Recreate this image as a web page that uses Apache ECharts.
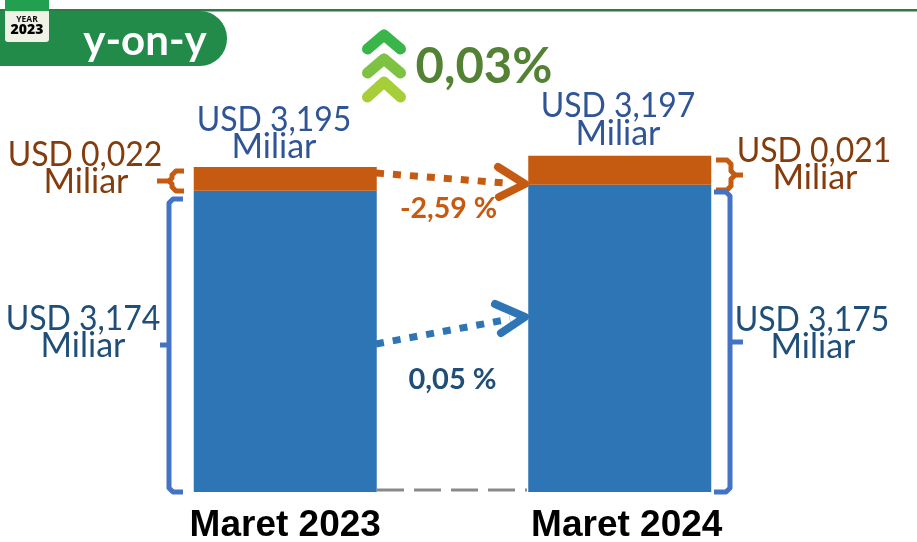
<!DOCTYPE html>
<html><head><meta charset="utf-8">
<style>html,body{margin:0;padding:0;background:#fff}#c{width:917px;height:542px}</style>
<script src="https://cdn.jsdelivr.net/npm/echarts@6/dist/echarts.min.js"></script>
</head><body><div id="c"></div>
<script>
const categories = ['Maret 2023', 'Maret 2024'];
// Drawn heights (the source is not drawn strictly to scale)
const blueValues = [2.96, 3.02];
const orangeValues = [0.235, 0.285];
const totalLabels = ['USD 3,195', 'USD 3,197'];
const orangeLabels = ['USD 0,022', 'USD 0,021'];
const blueLabels = ['USD 3,174', 'USD 3,175'];
const unitLabel = 'Miliar';
const changeOrange = '-2,59 %';
const changeBlue = '0,05 %';
const changeTotal = '0,03%';
const badgeText = 'y-on-y';

const F = 'Lato, "Open Sans", sans-serif';
const txt = (x, y, text, fill, size, weight, family, scaleX) => ({
  type: 'text', z: 20, x, y, scaleX: scaleX || 1,
  style: { text, fill, font: (weight||'normal') + ' ' + size + 'px ' + (family||F), align: 'center', verticalAlign: 'middle' }
});
const usd = (x, y, text, fill) => txt(x, y, text, fill, 34, 'normal', F, 0.94);
const mil = (x, y, fill) => txt(x, y, unitLabel, fill, 34);
const line = (points, stroke, lineWidth, extra) => ({
  type: 'polyline', z: 15, shape: { points },
  style: Object.assign({ stroke, lineWidth, fill: null, lineJoin: 'round', lineCap: 'round' }, extra || {})
});
const butt = { lineCap: 'butt' };
const C = { orange: '#C55A11', brown: '#843C0C', title: '#2F5597', dark: '#1F4E79', bar: '#2E75B6', br: '#4472C4' };
const axisFont = { color: '#000', fontFamily: '"Liberation Sans", Arial, sans-serif', fontWeight: 'bold', fontSize: 37 };

const chart = echarts.init(document.getElementById('c'), null, { renderer: 'canvas' });
chart.setOption({
  animation: false,
  backgroundColor: '#fff',
  grid: { left: 118, width: 669, top: 85, height: 407, outerBoundsMode: 'none' },
  xAxis: {
    type: 'category', data: categories,
    axisLine: { show: false }, axisTick: { show: false },
    axisLabel: Object.assign({}, axisFont, {
      margin: 15,
      formatter: (v, i) => i === 1 ? '{s|' + v + '}' : '{n|' + v + '}',
      rich: { n: axisFont, s: Object.assign({}, axisFont, { padding: [0, 0, 0, 14] }) }
    })
  },
  yAxis: { type: 'value', min: 0, max: 4, show: false, splitLine: { show: false } },
  series: [
    { type: 'bar', stack: 't', barWidth: 183, data: blueValues, itemStyle: { color: C.bar } },
    { type: 'bar', stack: 't', barWidth: 183, data: orangeValues, itemStyle: { color: C.orange } }
  ],
  graphic: { elements: [
    // header
    { type: 'rect', z: 5, shape: { x: 0, y: 9, width: 917, height: 2.5 }, style: { fill: '#2D7A45' } },
    { type: 'rect', z: 6, shape: { x: -30, y: 11, width: 257, height: 55, r: 27 }, style: { fill: '#238B49' } },
    { type: 'rect', z: 7, shape: { x: 5, y: 0, width: 44, height: 42, r: 3 }, style: { fill: '#F0F2E6' } },
    { type: 'rect', z: 8, shape: { x: 5, y: 0, width: 44, height: 11 }, style: { fill: '#22A04F' } },
    txt(27, 19.5, 'YEAR', '#111', 8.5, 'bold', '"Open Sans", sans-serif'),
    txt(27, 30, '2023', '#000', 14, '900', '"Open Sans", sans-serif'),
    txt(145, 41, badgeText, '#fff', 42, 'bold'),
    // chevrons + headline
    line([[367.5,49],[384,35],[400.5,49]], '#3AB54A', 11),
    line([[367.5,73],[384,59],[400.5,73]], '#7DC242', 11),
    line([[367.5,97],[384,82],[400.5,97]], '#A6CE39', 11),
    txt(484, 67, changeTotal, '#548235', 49, 'bold'),
    // labels over bars
    usd(274, 120, totalLabels[0], C.title), mil(274, 147, C.title),
    usd(618, 106, totalLabels[1], C.title), mil(618, 134, C.title),
    usd(85, 155, orangeLabels[0], C.brown), mil(86, 182, C.brown),
    usd(814, 151, orangeLabels[1], C.brown), mil(815, 178, C.brown),
    usd(83, 319, blueLabels[0], C.dark), mil(83, 346, C.dark),
    usd(812, 320, blueLabels[1], C.dark), mil(813, 347, C.dark),
    txt(448.5, 209, changeOrange, C.orange, 28.5, 'bold'),
    txt(452.5, 380, changeBlue, C.dark, 29, 'bold'),
    // brackets
    line([[184,171],[176,171],[172,175],[172,178],[169,181],[172,184],[172,187],[176,191],[184,191]], C.orange, 5, butt),
    line([[169,181],[157,181]], C.orange, 5, butt),
    line([[716,160],[727,160],[731,164],[731,171],[735,175],[731,179],[731,186],[727,190],[716,190]], C.orange, 5, butt),
    line([[735,175],[743,175]], C.orange, 5, butt),
    line([[183,199],[173,199],[169,203],[169,488],[173,492],[183,492]], C.br, 5, butt),
    line([[169,345],[160,345]], C.br, 5, butt),
    line([[714,192],[726,192],[730,196],[730,488],[726,492],[714,492]], C.br, 5, butt),
    line([[730,342],[743,342]], C.br, 5, butt),
    // arrows
    line([[376,173],[505,183]], C.orange, 7, { lineDash: [8, 9], lineCap: 'butt' }),
    line([[498,167],[525,184],[499,197]], C.orange, 8),
    line([[376,344],[510,319]], C.bar, 7, { lineDash: [8, 9], lineCap: 'butt' }),
    line([[495,304],[525,317],[501,333]], C.bar, 8),
    line([[377,490],[527,490]], '#898989', 3, { lineDash: [27, 10], lineCap: 'butt' })
  ] }
});
</script></body></html>
